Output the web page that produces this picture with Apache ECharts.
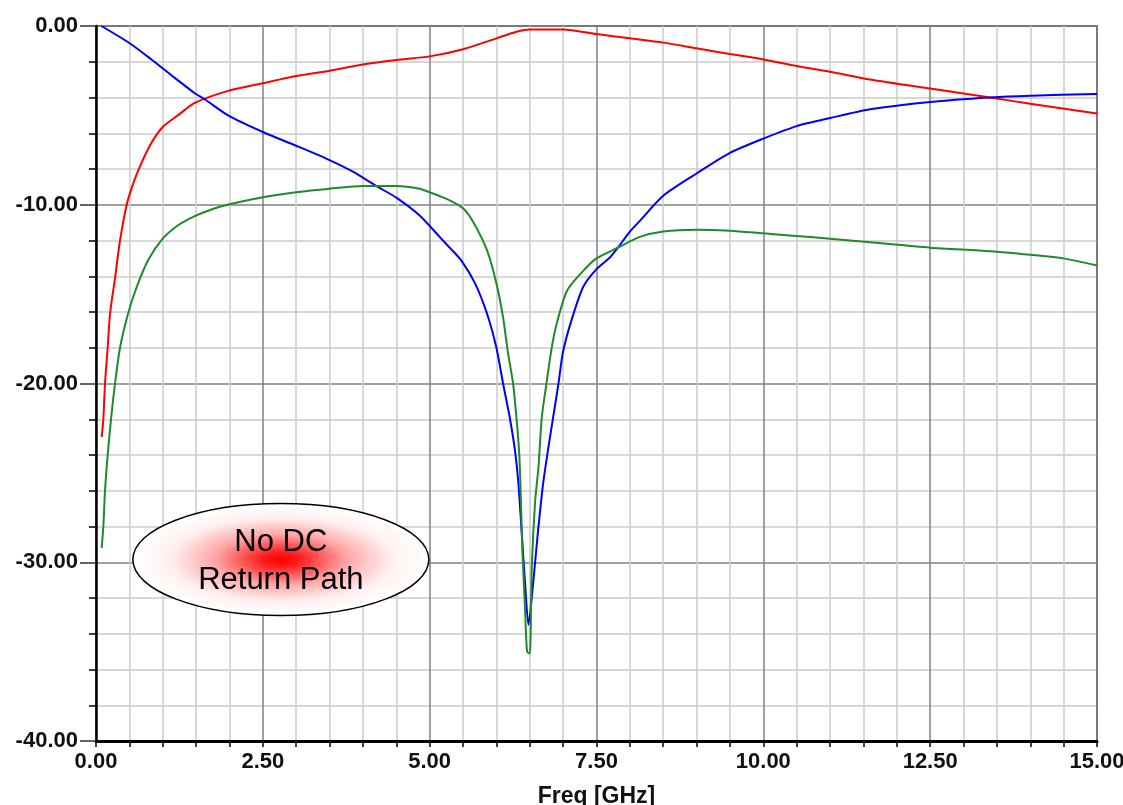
<!DOCTYPE html>
<html>
<head>
<meta charset="utf-8">
<script src="https://cdn.jsdelivr.net/npm/echarts@6/dist/echarts.min.js"></script>
<style>
html,body{margin:0;padding:0;background:#fff;}
#chart{width:1123px;height:805px;}
</style>
</head>
<body>
<div id="chart"></div>
<script>
// ---- Data (GHz, dB) ----
const redFreq = [0.085,0.11,0.135,0.175,0.21,0.285,0.36,0.46,0.54,0.63,0.81,1.0,1.26,1.48,1.98,2.5,3.0,3.5,4.0,4.5,5.0,5.5,6.0,6.3,6.5,7.0,7.5,8.0,8.5,9.0,9.5,10.0,10.5,11.0,11.6,12.5,13.4,14.0,15.0];
const redDb   = [-23,-22,-20,-18,-16.1,-14.1,-12,-10,-9.0,-8.1,-6.67,-5.65,-4.9,-4.3,-3.63,-3.2,-2.8,-2.5,-2.15,-1.9,-1.7,-1.3,-0.69,-0.32,-0.19,-0.19,-0.45,-0.69,-0.93,-1.25,-1.57,-1.87,-2.24,-2.56,-2.99,-3.5,-4.0,-4.35,-4.9];

const blueFreq = [0.08,0.5,0.84,1.18,1.48,1.63,1.98,2.5,3.0,3.5,3.85,4.2,4.5,4.85,5.15,5.3,5.48,5.68,5.86,6.0,6.1,6.2,6.28,6.33,6.38,6.43,6.48,6.55,6.62,6.7,6.77,6.85,6.93,7.0,7.13,7.3,7.5,7.7,7.82,8.0,8.15,8.5,9.0,9.5,10.0,10.5,11.0,11.6,12.5,13.4,14.0,15.0];
const blueDb   = [0,-0.95,-1.9,-2.9,-3.76,-4.1,-5.0,-5.93,-6.7,-7.5,-8.15,-8.95,-9.6,-10.6,-11.8,-12.4,-13.15,-14.4,-16.1,-18.0,-20,-21.9,-23.8,-25.6,-28.4,-31.2,-33.5,-31.2,-28.4,-25.6,-23.8,-21.9,-20,-18.2,-16.4,-14.6,-13.6,-12.95,-12.4,-11.5,-10.9,-9.5,-8.25,-7.1,-6.3,-5.6,-5.15,-4.66,-4.25,-4.0,-3.9,-3.8];

const greenFreq = [0.085,0.11,0.135,0.175,0.225,0.285,0.36,0.48,0.61,0.78,1.0,1.23,1.48,1.74,2.0,2.5,3.0,3.5,4.0,4.5,4.85,5.0,5.3,5.5,5.65,5.86,6.0,6.1,6.17,6.25,6.3,6.34,6.36,6.39,6.43,6.46,6.5,6.53,6.58,6.63,6.68,6.75,6.82,6.9,7.06,7.3,7.5,7.82,8.15,8.5,9.0,9.5,10.0,10.5,11.0,11.6,12.5,13.4,14.0,14.5,15.0];
const greenDb   = [-29.2,-28,-26,-24,-22,-20,-18,-16.1,-14.6,-13.1,-11.9,-11.15,-10.64,-10.25,-9.97,-9.58,-9.3,-9.1,-8.95,-8.95,-9.1,-9.3,-9.75,-10.2,-10.95,-12.55,-14.4,-16.3,-18.2,-20,-21.9,-23.8,-25.6,-29.4,-32.7,-35,-35.1,-30.3,-26.6,-24.7,-21.9,-20,-18.2,-16.7,-14.8,-13.7,-13.0,-12.4,-11.8,-11.5,-11.4,-11.45,-11.6,-11.75,-11.9,-12.1,-12.4,-12.6,-12.8,-13.0,-13.4];

const xTicks = [0, 2.5, 5, 7.5, 10, 12.5, 15];
const yTicks = [-40, -30, -20, -10, 0];
const xName = 'Freq [GHz]';
const noteLines = ['No DC', 'Return Path'];
const noteCenter = [2.77, -29.85];

function zip(a, b) { return a.map((v, i) => [v, b[i]]); }

const chart = echarts.init(document.getElementById('chart'));
const labelFont = { fontFamily: 'Arial, "Liberation Sans", sans-serif', fontWeight: 'bold', fontSize: 22, color: '#111' };

function mkSeries(name, f, d, color) {
  return {
    name, type: 'line', data: zip(f, d), showSymbol: false, symbol: 'none',
    smooth: 0.25,
    lineStyle: { color, width: 2 }, itemStyle: { color }, z: 5, animation: false
  };
}

chart.setOption({
  animation: false,
  backgroundColor: '#ffffff',
  grid: { left: 96, right: 26, top: 26, bottom: 64, outerBoundsMode: 'none', containLabel: false,
          show: true, borderColor: '#333', borderWidth: 1.5, backgroundColor: 'transparent' },
  xAxis: {
    type: 'value', min: xTicks[0], max: xTicks[xTicks.length - 1], interval: 2.5,
    name: xName, nameLocation: 'middle', nameGap: 44,
    nameTextStyle: Object.assign({}, labelFont, { fontSize: 23 }),
    axisLine: { show: true, onZero: false, lineStyle: { color: '#000', width: 3 } },
    axisTick: { show: true, length: 6, lineStyle: { color: '#000', width: 1.5 } },
    minorTick: { show: true, splitNumber: 5, length: 6, lineStyle: { color: '#000', width: 1.5 } },
    axisLabel: Object.assign({ margin: 10, formatter: v => v.toFixed(2) }, labelFont),
    splitLine: { show: true, lineStyle: { color: '#808080', width: 1.5 } },
    minorSplitLine: { show: true, lineStyle: { color: '#cccccc', width: 1.5 } }
  },
  yAxis: {
    type: 'value', min: yTicks[0], max: yTicks[yTicks.length - 1], interval: 10,
    axisLine: { show: true, onZero: false, lineStyle: { color: '#000', width: 2.5 } },
    axisTick: { show: true, length: 16, lineStyle: { color: '#333', width: 1.5 } },
    minorTick: { show: true, splitNumber: 5, length: 7, lineStyle: { color: '#000', width: 1.5 } },
    axisLabel: Object.assign({ margin: 18, formatter: v => v.toFixed(2) }, labelFont),
    splitLine: { show: true, lineStyle: { color: '#808080', width: 1.5 } },
    minorSplitLine: { show: true, lineStyle: { color: '#cccccc', width: 1.5 } }
  },
  series: [
    mkSeries('S11', redFreq, redDb, '#ff0000'),
    mkSeries('S21', blueFreq, blueDb, '#0000ff'),
    mkSeries('S22', greenFreq, greenDb, '#1f8a2a')
  ]
});

const c = chart.convertToPixel({ gridIndex: 0 }, noteCenter);
const rx = 148, ry = 56;
chart.setOption({
  graphic: [
    {
      type: 'circle', x: c[0], y: c[1], scaleX: rx / ry, scaleY: 1, z: 20,
      shape: { cx: 0, cy: 0, r: ry },
      style: {
        fill: { type: 'radial', x: 0.5, y: 0.5, r: 0.5, colorStops: [
          { offset: 0, color: '#ff0000' },
          { offset: 0.12, color: '#ff1a1a' },
          { offset: 0.45, color: '#ffa8a8' },
          { offset: 0.75, color: '#fff0f0' },
          { offset: 1, color: '#ffffff' }
        ] },
        stroke: null
      }
    },
    {
      type: 'ellipse', z: 21,
      shape: { cx: c[0], cy: c[1], rx: rx, ry: ry },
      style: { fill: null, stroke: '#000', lineWidth: 1.5 }
    },
    {
      type: 'text', x: c[0], y: c[1] + 2, z: 22,
      style: {
        text: noteLines.join('\n'), align: 'center', verticalAlign: 'middle',
        font: '31px Arial, "Liberation Sans", sans-serif', lineHeight: 38, fill: '#000'
      }
    }
  ]
});
</script>
</body>
</html>
